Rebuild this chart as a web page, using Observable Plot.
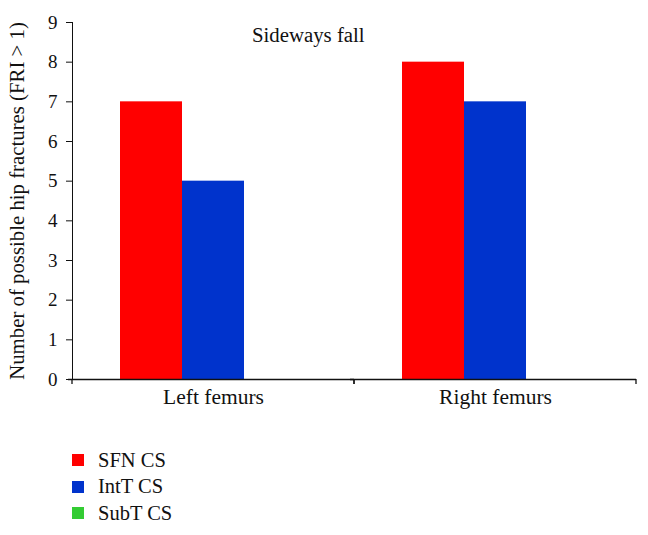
<!DOCTYPE html>
<html>
<head>
<meta charset="utf-8">
<script src="https://cdn.jsdelivr.net/npm/d3@7"></script>
<script src="https://cdn.jsdelivr.net/npm/@observablehq/plot@0.6"></script>
<style>
  body { margin: 0; background: #fff; font-family: "Liberation Serif", serif; }
  #wrap { position: relative; width: 648px; height: 535px; overflow: hidden; }
  #title { position: absolute; left: 252px; top: 25px; font-size: 20.8px; line-height: 20px; color: #111; }
  .row { position: absolute; left: 72px; height: 20px; display: flex; align-items: center; font-size: 20.5px; color: #111; }
  .sw { width: 12px; height: 12px; margin-right: 14px; }
  g[aria-label="y-axis tick label"] { font-size: 19px; }
  g[aria-label="y-axis label"] { font-size: 20.8px; }
  g[aria-label="fx-axis tick label"] { font-size: 21.5px; }
</style>
</head>
<body>
<div id="wrap"><div id="title">Sideways fall</div></div>
<script>
const categories = ["Left femurs", "Right femurs"];
const series = ["SFN CS", "IntT CS", "SubT CS"];
const sfnValues = [7, 8];
const inttValues = [5, 7];
const subtValues = [0, 0];
const colors = ["#ff0000", "#0033cc", "#33cc33"];
const yTicks = [0, 1, 2, 3, 4, 5, 6, 7, 8, 9];
const yLabel = "Number of possible hip fractures (FRI > 1)";

const valueSets = [sfnValues, inttValues, subtValues];
const table = [];
categories.forEach((c, i) => {
  series.forEach((s, j) => table.push({cat: c, series: s, value: valueSets[j][i]}));
});

function boundaryTicks(index, scales, values, dimensions) {
  const g = document.createElementNS("http://www.w3.org/2000/svg", "g");
  const x = scales.x;
  if (!x || !x.range) return g;
  const [r0, r1] = x.range();
  const y0 = scales.y(0);
  for (const px of [r0, r1]) {
    const l = document.createElementNS("http://www.w3.org/2000/svg", "line");
    l.setAttribute("x1", px); l.setAttribute("x2", px);
    l.setAttribute("y1", y0); l.setAttribute("y2", y0 + 5);
    l.setAttribute("stroke", "#111");
    l.setAttribute("stroke-width", "1.3");
    g.appendChild(l);
  }
  return g;
}

const chart = Plot.plot({
  width: 648,
  height: 430,
  marginLeft: 71,
  marginRight: 12,
  marginTop: 22,
  marginBottom: 51,
  style: {fontFamily: "Liberation Serif", fontSize: "19.5px", color: "#111", background: "#fff"},
  facet: {data: table, x: "cat"},
  fx: {domain: categories, padding: 0, label: null, axis: "bottom", tickSize: 0, tickPadding: 9},
  x: {domain: series, paddingInner: 0, paddingOuter: 0.765, axis: null},
  y: {domain: [0, 9], ticks: yTicks, tickSize: 6, tickPadding: 9, line: true, label: yLabel, labelArrow: "none", labelAnchor: "center", labelOffset: 63},
  color: {domain: series, range: colors},
  marks: [
    Plot.barY(table, {x: "series", y: "value", fill: "series", insetLeft: 0, insetRight: 0}),
    Plot.ruleY([0], {insetLeft: -4, stroke: "#111", strokeWidth: 1.3}),
    boundaryTicks
  ]
});
chart.style.display = "block";
const wrap = document.getElementById("wrap");
wrap.insertBefore(chart, wrap.firstChild);

series.forEach((s, i) => {
  const row = document.createElement("div");
  row.className = "row";
  row.style.top = (450 + i * 26.5) + "px";
  const sw = document.createElement("div");
  sw.className = "sw";
  sw.style.background = colors[i];
  const t = document.createElement("span");
  t.textContent = s;
  row.appendChild(sw); row.appendChild(t);
  wrap.appendChild(row);
});
</script>
</body>
</html>
